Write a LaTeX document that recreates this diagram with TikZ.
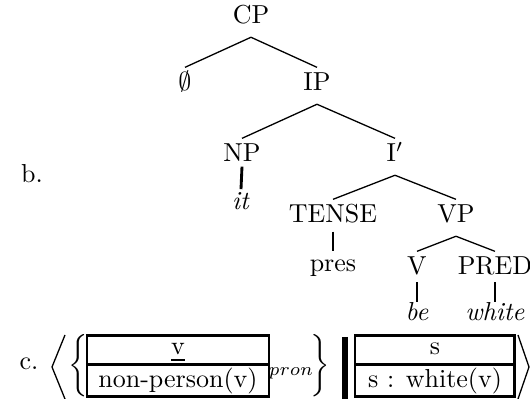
\documentclass[tikz,border=0pt]{standalone}
% underline with a heavier rule, as used for the discourse referent
\newcommand{\heavyul}[1]{\leavevmode\vtop{\hbox{#1}\kern1.4pt\hrule height 0.8pt}}
\begin{document}
\begin{tikzpicture}[x=0.3846pt,y=-0.3846pt,
  lab/.style={text height=7pt, text depth=3pt, inner sep=1.9pt, anchor=base},
  branch/.style={line width=0.5pt},
  stem/.style={line width=1.1pt},
  cell/.style={line width=1.15pt},
  row/.style={anchor=base, inner sep=0pt}]
\useasboundingbox (0,0) rectangle (530,399);

% ---- b. : the phrase-structure tree
\node[row] (blabel) at (32,183) {b.};

\node[lab] (cp)    at (251,24)  {CP};
\node[lab] (empty) at (185,91)  {$\emptyset$};
\node[lab] (ip)    at (317,91)  {IP};
\node[lab] (np)    at (242,162) {NP};
\node[lab] (ibar)  at (395,162) {I$'$};
\node[lab] (it)    at (241,210) {\textit{it}};
\node[lab] (tense) at (333,223) {TENSE};
\node[lab] (vp)    at (456,223) {VP};
\node[lab] (pres)  at (333,272) {pres};
\node[lab] (v)     at (417,275) {V};
\node[lab] (pred)  at (495,275) {PRED};
\node[lab] (be)    at (417,321) {\textit{be}};
\node[lab] (white) at (495,321) {\textit{white}};

\draw[branch] (cp.south) -- (empty.north);
\draw[branch] (cp.south) -- (ip.north);
\draw[branch] (ip.south) -- (np.north);
\draw[branch] (ip.south) -- (ibar.north);
\draw[branch] (ibar.south) -- (tense.north);
\draw[branch] (ibar.south) -- (vp.north);
\draw[branch] (vp.south) -- (v.north);
\draw[branch] (vp.south) -- (pred.north);

% unary branches down to the words
\draw[stem] ([yshift=-1.8pt]np.base) -- ([yshift=8pt]it.base);
\draw[stem] ([yshift=-3.3pt]tense.base) -- ([yshift=8.2pt]pres.base);
\draw[stem] ([yshift=-2.7pt]v.base) -- ([yshift=7.3pt]be.base);
\draw[stem] ([yshift=-2.7pt]pred.base) -- ([yshift=7.3pt]white.base);

% ---- c. : the DRS sequence
\node[row] (clabel) at (29,370) {c.};

% outer angle brackets
\draw[line width=0.5pt] (65,335) -- (52,367) -- (65,399);
\draw[line width=0.5pt] (518,335) -- (529,367) -- (518,399);

% braces around the first box
\node[inner sep=0pt] (lbrace) at (78,366) {$\bigg\{$};
\node[inner sep=0pt] (rbrace) at (320,366) {$\bigg\}$};

% first box
\draw[cell] (87,336) rectangle (269,397);
\draw[cell] (87,365) -- (269,365);
\node[row] (refv)  at (178,355) {\heavyul{v}};
\node[row] (cond1) at (178,388) {non-person(v)};
\node[row] (pron)  at (291,376) {$\scriptstyle pron$};

% separator
\draw[line width=2.2pt] (345,337) -- (345,399);

% second box
\draw[cell] (355,336) rectangle (515,397);
\draw[cell] (355,365) -- (515,365);
\node[row] (refs)  at (435,355) {s};
\node[row] (cond2) at (435,388) {s : white(v)};
\end{tikzpicture}
\end{document}
